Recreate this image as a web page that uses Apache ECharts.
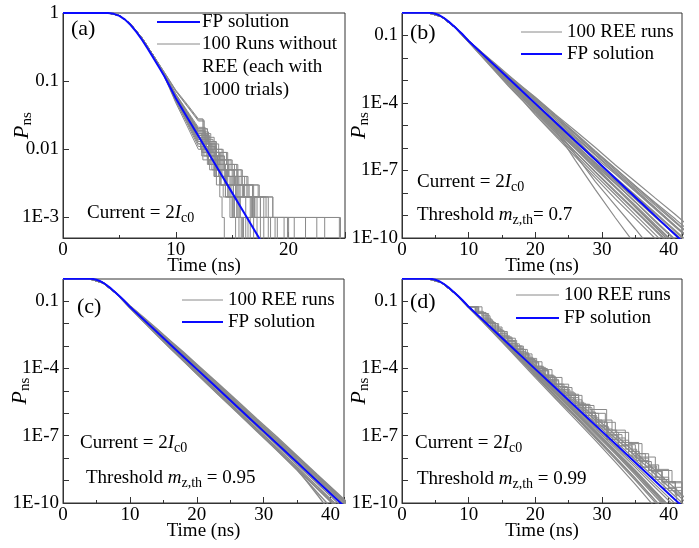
<!DOCTYPE html>
<html>
<head>
<meta charset="utf-8">
<script src="https://cdn.jsdelivr.net/npm/echarts@6/dist/echarts.min.js"></script>
<style>
html, body { margin: 0; padding: 0; background: #fff; }
#chart { width: 699px; height: 548px; }
</style>
</head>
<body>
<div id="chart"></div>
<script>
// ---------- values ----------
// FP solution (same in all panels), stored as log10(Pns)
var fpTime = [0, 4, 4.5, 5, 5.5, 6, 6.5, 7, 7.5, 8, 8.5, 9, 9.5, 10, 11, 12, 13, 14, 15, 16, 17, 18, 20, 22, 24, 26, 28, 30, 32, 34, 36, 38, 40, 42];
var fpLog = [0, 0, -0.012, -0.042, -0.097, -0.177, -0.277, -0.392, -0.52, -0.655, -0.793, -0.932, -1.09, -1.25, -1.528, -1.806, -2.083, -2.361, -2.639, -2.917, -3.194, -3.472, -4.028, -4.583, -5.139, -5.694, -6.25, -6.806, -7.361, -7.917, -8.472, -9.028, -9.583, -10.139];

// panel (a): runs without REE, 1000 trials each (Pns values, 0 = no survivors)
var aHeadTime = [0, 4, 5, 6, 7, 8];
var aHead = [1, 1, 0.92, 0.69, 0.43, 0.24];
var aMidTime = [9, 10, 11, 12];
var aMid = [
  [0.125, 0.062, 0.034, 0.019], [0.120, 0.055, 0.028, 0.014], [0.133, 0.072, 0.044, 0.027], [0.118, 0.052, 0.026, 0.013],
  [0.127, 0.060, 0.031, 0.017], [0.122, 0.058, 0.030, 0.016], [0.128, 0.064, 0.036, 0.020], [0.119, 0.054, 0.027, 0.015],
  [0.124, 0.059, 0.033, 0.018], [0.121, 0.056, 0.029, 0.015], [0.126, 0.061, 0.032, 0.017], [0.117, 0.050, 0.025, 0.012],
  [0.129, 0.065, 0.037, 0.021], [0.123, 0.057, 0.031, 0.016], [0.120, 0.053, 0.027, 0.014], [0.125, 0.063, 0.035, 0.019],
  [0.115, 0.048, 0.022, 0.010], [0.134, 0.074, 0.046, 0.028], [0.118, 0.051, 0.024, 0.011], [0.126, 0.062, 0.034, 0.020],
  [0.122, 0.055, 0.028, 0.013], [0.127, 0.063, 0.035, 0.018], [0.119, 0.053, 0.026, 0.012], [0.124, 0.060, 0.032, 0.017],
  [0.121, 0.056, 0.030, 0.016], [0.132, 0.071, 0.043, 0.026]
];
// [time of drop, new level]
var aTail = [
  [[12.6, 0.012], [13.2, 0.008], [13.9, 0.005], [14.6, 0.003], [15.4, 0.002], [16.8, 0.001], [18.2, 0]],
  [[12.4, 0.009], [13.1, 0.006], [13.8, 0.004], [14.4, 0.003], [15.1, 0.001], [16.0, 0]],
  [[12.5, 0.016], [13.0, 0.011], [13.6, 0.008], [14.3, 0.006], [15.2, 0.004], [16.1, 0.002], [17.5, 0.001], [20.5, 0]],
  [[12.3, 0.009], [12.9, 0.006], [13.4, 0.004], [13.9, 0.002], [14.1, 0.001], [14.3, 0]],
  [[12.7, 0.011], [13.5, 0.007], [14.2, 0.005], [15.0, 0.003], [15.9, 0.002], [16.6, 0.001], [17.2, 0]],
  [[12.5, 0.010], [13.3, 0.006], [14.0, 0.004], [14.8, 0.002], [15.6, 0.001], [24.5, 0]],
  [[12.8, 0.013], [13.6, 0.009], [14.5, 0.006], [15.5, 0.004], [16.4, 0.003], [17.4, 0.002], [18.6, 0.001], [19.6, 0]],
  [[12.2, 0.011], [12.8, 0.007], [13.5, 0.005], [14.5, 0.003], [15.3, 0.002], [16.2, 0.001], [16.9, 0]],
  [[12.4, 0.013], [13.0, 0.009], [13.8, 0.006], [14.7, 0.004], [15.6, 0.002], [17.0, 0.001], [21.5, 0]],
  [[12.6, 0.009], [13.4, 0.005], [14.0, 0.003], [14.9, 0.002], [15.4, 0.001], [15.8, 0]],
  [[12.3, 0.012], [13.1, 0.008], [13.7, 0.006], [14.4, 0.004], [15.3, 0.003], [16.5, 0.002], [17.8, 0.001], [18.8, 0]],
  [[12.5, 0.008], [13.2, 0.005], [13.9, 0.003], [14.6, 0.002], [15.2, 0.001], [15.9, 0]],
  [[12.6, 0.015], [13.4, 0.010], [14.1, 0.007], [14.9, 0.005], [15.8, 0.003], [16.8, 0.002], [18.0, 0.001], [24.6, 0]],
  [[12.9, 0.010], [13.6, 0.007], [14.3, 0.005], [15.1, 0.003], [16.0, 0.002], [16.7, 0.001], [20.0, 0]],
  [[12.7, 0.008], [13.5, 0.004], [14.4, 0.002], [15.0, 0.001], [17.5, 0]],
  [[12.5, 0.014], [13.3, 0.009], [14.0, 0.006], [14.6, 0.004], [15.4, 0.003], [16.3, 0.002], [17.2, 0.001], [19.0, 0]],
  [[12.4, 0.007], [13.0, 0.005], [13.6, 0.003], [14.2, 0.002], [14.8, 0.001], [15.3, 0]],
  [[12.4, 0.018], [12.9, 0.013], [13.5, 0.010], [14.2, 0.007], [15.0, 0.005], [15.9, 0.003], [16.9, 0.002], [18.2, 0.001], [22.5, 0]],
  [[12.3, 0.008], [12.8, 0.006], [13.4, 0.004], [14.0, 0.003], [14.7, 0.002], [15.5, 0.001], [16.4, 0]],
  [[12.8, 0.012], [13.5, 0.008], [14.3, 0.005], [15.2, 0.003], [16.0, 0.002], [17.0, 0.001], [17.8, 0]],
  [[12.5, 0.010], [13.0, 0.008], [13.7, 0.005], [14.3, 0.003], [15.1, 0.002], [15.7, 0.001], [16.2, 0]],
  [[12.6, 0.013], [13.2, 0.009], [13.9, 0.007], [14.7, 0.004], [15.5, 0.002], [16.9, 0.001], [23.2, 0]],
  [[12.2, 0.010], [12.9, 0.007], [13.6, 0.004], [14.4, 0.002], [15.0, 0.001], [15.6, 0]],
  [[12.4, 0.012], [13.1, 0.009], [13.9, 0.006], [14.6, 0.005], [15.5, 0.003], [16.4, 0.002], [17.5, 0.001], [18.4, 0]],
  [[12.7, 0.011], [13.4, 0.007], [14.1, 0.004], [14.9, 0.003], [15.7, 0.001], [16.6, 0]],
  [[12.5, 0.017], [13.1, 0.012], [13.8, 0.009], [14.6, 0.006], [15.4, 0.004], [16.3, 0.003], [17.3, 0.002], [18.6, 0.001], [19.9, 0]]
];

// panels (b)-(d): REE runs, log10(Pns) on a shared time grid
var runTime = [0, 4, 6, 8, 10, 12, 14, 16, 18, 20, 23, 26, 29, 32, 35, 38, 41, 43];
var runHeadLog = [0, 0, -0.177, -0.655];
var bRuns = [
  [-1.25, -1.76, -2.26, -2.77, -3.27, -3.75, -4.51, -5.24, -5.98, -6.76, -7.49, -8.23, -8.96, -9.47],
  [-1.25, -1.78, -2.28, -2.82, -3.32, -3.83, -4.56, -5.34, -6.13, -6.91, -7.69, -8.48, -9.26, -9.80],
  [-1.25, -1.79, -2.31, -2.87, -3.37, -3.88, -4.66, -5.49, -6.28, -7.06, -7.84, -8.65, -9.46, -10.00],
  [-1.27, -1.81, -2.34, -2.92, -3.52, -4.03, -4.81, -5.59, -6.48, -7.36, -8.14, -8.93, -9.71, -10.27],
  [-1.28, -1.86, -2.44, -3.02, -3.57, -4.15, -5.01, -5.87, -6.73, -7.56, -8.41, -9.28, -10.11, -10.67],
  [-1.30, -1.91, -2.51, -3.12, -3.72, -4.33, -5.21, -6.04, -6.93, -7.76, -8.61, -9.48, -10.31, -10.87],
  [-1.29, -1.91, -2.56, -3.17, -3.77, -4.41, -5.31, -6.19, -7.08, -7.96, -8.81, -9.68, -10.56, -11.12],
  [-1.30, -1.96, -2.61, -3.27, -3.87, -4.53, -5.46, -6.39, -7.33, -8.26, -9.14, -10.03, -10.91, -11.52],
  [-1.28, -1.86, -2.45, -3.05, -3.65, -4.25, -5.20, -6.55, -7.85, -9.10, -10.30, -11.50, -12.70, -13.50],
  [-1.28, -1.86, -2.45, -3.05, -3.62, -4.20, -5.10, -6.30, -7.50, -8.55, -9.60, -10.70, -11.80, -12.50],
  [-1.25, -1.77, -2.30, -2.80, -3.29, -3.78, -4.56, -5.39, -6.18, -6.91, -7.69, -8.43, -9.16, -9.67],
  [-1.27, -1.86, -2.46, -3.07, -3.67, -4.25, -5.11, -5.99, -6.83, -7.71, -8.54, -9.41, -10.26, -10.82],
  [-1.27, -1.84, -2.41, -2.97, -3.55, -4.13, -4.91, -5.69, -6.43, -7.16, -7.94, -8.73, -9.51, -10.02],
  [-1.30, -1.93, -2.58, -3.22, -3.85, -4.48, -5.38, -6.29, -7.21, -8.08, -8.97, -9.85, -10.71, -11.32],
  [-1.26, -1.84, -2.41, -3.00, -3.57, -4.13, -4.94, -5.74, -6.53, -7.31, -8.09, -8.88, -9.66, -10.20],
  [-1.27, -1.87, -2.46, -3.04, -3.62, -4.21, -5.08, -5.94, -6.78, -7.58, -8.39, -9.23, -10.06, -10.62],
  [-1.25, -1.79, -2.32, -2.86, -3.39, -3.93, -4.74, -5.54, -6.33, -7.11, -7.89, -8.68, -9.46, -9.97],
  [-1.28, -1.88, -2.48, -3.10, -3.69, -4.31, -5.16, -6.01, -6.88, -7.74, -8.64, -9.53, -10.41, -11.00],
  [-1.26, -1.83, -2.38, -2.95, -3.52, -4.09, -4.96, -5.81, -6.68, -7.48, -8.27, -9.08, -9.86, -10.40],
  [-1.25, -1.80, -2.33, -2.87, -3.37, -3.88, -4.64, -5.41, -6.21, -6.98, -7.77, -8.55, -9.31, -9.82],
  [-1.29, -1.91, -2.52, -3.14, -3.75, -4.38, -5.28, -6.17, -7.05, -7.91, -8.77, -9.63, -10.48, -11.07],
  [-1.27, -1.85, -2.42, -3.00, -3.59, -4.18, -5.04, -5.89, -6.65, -7.44, -8.24, -9.05, -9.81, -10.34]
];
var cRuns = [
  [-1.20, -1.71, -2.22, -2.75, -3.27, -3.81, -4.62, -5.43, -6.25, -7.06, -7.89, -8.73, -9.56, -10.12],
  [-1.22, -1.75, -2.27, -2.81, -3.35, -3.89, -4.71, -5.52, -6.35, -7.16, -7.99, -8.83, -9.64, -10.20],
  [-1.23, -1.78, -2.32, -2.87, -3.41, -3.96, -4.78, -5.61, -6.44, -7.26, -8.09, -8.91, -9.74, -10.30],
  [-1.25, -1.81, -2.35, -2.90, -3.45, -4.00, -4.84, -5.66, -6.49, -7.33, -8.15, -8.98, -9.81, -10.37],
  [-1.26, -1.83, -2.39, -2.96, -3.52, -4.08, -4.92, -5.76, -6.60, -7.44, -8.29, -9.13, -9.98, -10.54],
  [-1.27, -1.86, -2.43, -3.01, -3.57, -4.15, -4.99, -5.84, -6.69, -7.54, -8.39, -9.25, -10.11, -10.67],
  [-1.29, -1.89, -2.47, -3.06, -3.63, -4.21, -5.06, -5.91, -6.77, -7.62, -8.49, -9.36, -10.24, -10.82],
  [-1.30, -1.91, -2.51, -3.10, -3.67, -4.25, -5.10, -5.95, -6.81, -7.66, -8.54, -9.53, -10.51, -11.12],
  [-1.28, -1.87, -2.46, -3.04, -3.62, -4.20, -5.04, -5.89, -6.75, -7.61, -8.49, -9.63, -10.81, -11.52],
  [-1.21, -1.74, -2.25, -2.78, -3.31, -3.85, -4.66, -5.48, -6.31, -7.12, -7.94, -8.77, -9.59, -10.15],
  [-1.28, -1.88, -2.48, -3.08, -3.66, -4.24, -5.09, -5.93, -6.78, -7.63, -8.47, -9.33, -10.18, -10.75],
  [-1.23, -1.76, -2.28, -2.82, -3.37, -3.93, -4.74, -5.56, -6.39, -7.21, -8.02, -8.85, -9.68, -10.24]
];
var dRuns = [
  [-1.28, -1.89, -2.51, -3.14, -3.77, -4.41, -5.34, -6.27, -7.21, -8.18, -9.17, -10.21, -11.24, -11.92],
  [-1.27, -1.86, -2.46, -3.07, -3.67, -4.28, -5.19, -6.09, -7.01, -7.94, -8.89, -9.88, -10.86, -11.52],
  [-1.26, -1.84, -2.42, -3.01, -3.59, -4.18, -5.06, -5.94, -6.83, -7.73, -8.64, -9.58, -10.51, -11.12],
  [-1.25, -1.82, -2.39, -2.97, -3.53, -4.11, -4.96, -5.81, -6.68, -7.54, -8.41, -9.31, -10.18, -10.77],
  [-1.27, -1.87, -2.48, -3.10, -3.72, -4.34, -5.26, -6.17, -7.10, -8.04, -8.99, -9.98, -10.96, -11.62],
  [-1.26, -1.85, -2.44, -3.04, -3.63, -4.23, -5.12, -6.01, -6.91, -7.81, -8.74, -9.71, -10.66, -11.27],
  [-1.24, -1.80, -2.36, -2.94, -3.50, -4.07, -4.91, -5.76, -6.61, -7.46, -8.31, -9.18, -10.04, -10.62],
  [-1.27, -1.85, -2.43, -3.02, -3.61, -4.21, -5.09, -5.97, -6.86, -7.76, -8.67, -9.63, -10.58, -11.22],
  [-1.25, -1.80, -2.33, -2.87, -3.39, -3.93, -4.72, -5.51, -6.31, -7.11, -7.91, -8.73, -9.54, -10.09],
  [-1.26, -1.83, -2.40, -2.98, -3.56, -4.14, -5.00, -5.86, -6.75, -7.64, -8.54, -9.48, -10.41, -11.02],
  [-1.25, -1.81, -2.35, -2.90, -3.43, -3.97, -4.78, -5.59, -6.43, -7.24, -8.07, -8.89, -9.71, -10.27],
  [-1.27, -1.86, -2.45, -3.06, -3.67, -4.29, -5.21, -6.13, -7.06, -7.98, -8.92, -9.89, -10.86, -11.50],
  [-1.24, -1.79, -2.31, -2.84, -3.35, -3.87, -4.64, -5.41, -6.19, -6.96, -7.75, -8.55, -9.36, -9.92],
  [-1.26, -1.84, -2.41, -2.99, -3.57, -4.16, -5.03, -5.91, -6.80, -7.69, -8.59, -9.53, -10.46, -11.07]
];
// panel (d): stepped runs, [time of drop, new log10 level]
var dStepHeadTime = [0, 4, 5, 6, 7, 8, 9, 10];
var dStepHeadLog = [0, 0, -0.042, -0.177, -0.392, -0.655, -0.932, -1.25];
var dStepTail = [
  [[12, -1.65], [13.2, -2.0], [14.5, -2.35], [15.6, -2.65], [17, -3.0], [18.2, -3.35], [19.5, -3.7], [21, -4.05], [22.5, -4.4], [24, -4.85], [25.5, -5.2], [27, -5.65], [28.8, -6.0], [30.5, -6.4], [32, -6.85], [34, -7.35], [36, -7.95], [38, -8.5], [40, -9.05], [42, -9.6]],
  [[11.5, -1.55], [12.8, -1.95], [14, -2.3], [15.3, -2.65], [16.5, -3.0], [18, -3.4], [19.2, -3.75], [20.5, -4.1], [22, -4.5], [23.5, -4.95], [25, -5.3], [26.5, -5.75], [28.5, -6.2], [29.5, -6.6], [31, -6.95], [33, -7.4], [35, -8.0], [37, -8.55], [39, -9.05], [41, -9.6], [43, -10.2]],
  [[11, -1.45], [12.2, -1.8], [13.5, -2.15], [15, -2.55], [16.2, -2.9], [17.6, -3.3], [19, -3.65], [20.2, -4.0], [21.8, -4.4], [23.2, -4.8], [24.8, -5.2], [26.5, -5.6], [28.2, -5.83], [30.7, -7.17], [32.5, -7.45], [34.5, -7.95], [36, -8.4], [38, -8.95], [40, -9.45], [42, -10.05]],
  [[11, -1.5], [12, -1.75], [13.3, -2.1], [14.5, -2.45], [15.8, -2.8], [17, -3.15], [18.5, -3.55], [19.8, -3.9], [21.2, -4.3], [22.8, -4.7], [24.3, -5.1], [26, -5.55], [27.5, -5.95], [29, -6.4], [30.8, -6.85], [32.5, -7.3], [34.5, -7.8], [36.5, -8.35], [38.2, -8.85], [40, -9.3], [42, -9.85]],
  [[11.2, -1.5], [12.6, -1.9], [13.8, -2.25], [15, -2.6], [16.5, -3.0], [17.8, -3.35], [19, -3.7], [20.5, -4.1], [22, -4.55], [23.5, -4.95], [25.2, -5.4], [27, -5.85], [28.5, -6.3], [30, -6.7], [31.5, -7.1], [33.5, -7.6], [35.2, -8.1], [37, -8.55], [39, -9.1], [41, -9.65], [43, -10.2]],
  [[11.5, -1.55], [13, -2.0], [14.3, -2.35], [15.8, -2.75], [17.2, -3.15], [18.8, -3.55], [20.2, -3.95], [21.5, -4.35], [23, -4.7], [25, -5.15], [26.5, -5.6], [28, -6.0], [29.5, -6.3], [31.5, -6.75], [33.5, -7.3], [35.5, -7.8], [37, -8.3], [38.5, -8.55], [40.5, -9.1], [42, -9.6]],
  [[11, -1.5], [12.3, -1.85], [13.6, -2.2], [14.8, -2.55], [16, -2.9], [17.3, -3.25], [18.6, -3.6], [20, -4.0], [21.4, -4.4], [22.9, -4.8], [24.4, -5.2], [26, -5.65], [27.6, -6.1], [29.2, -6.55], [30.8, -7.0], [32.4, -7.45], [34, -7.9], [35.8, -8.4], [37.5, -8.85], [39.3, -9.35], [41.2, -9.9]],
  [[11.3, -1.55], [12.6, -1.95], [14, -2.35], [15.4, -2.75], [16.8, -3.1], [18.2, -3.5], [19.6, -3.9], [21, -4.3], [22.6, -4.7], [24, -5.05], [25.8, -5.5], [27.2, -5.95], [29, -6.35], [30.4, -6.75], [32.2, -7.2], [34, -7.7], [35.6, -8.15], [37.4, -8.6], [39, -9.05], [41, -9.55], [43, -10.1]]
];

// tick labels
var yTicksA = [1, 0.1, 0.01, 0.001];
var yTickTextA = ['1', '0.1', '0.01', '1E-3'];
var yTicksB = [0.1, 1e-4, 1e-7, 1e-10];
var yTickTextB = ['0.1', '1E-4', '1E-7', '1E-10'];

// ---------- chart ----------
var SERIF = "'Liberation Serif', 'Times New Roman', serif";
var GRAY = '#8a8a8a';
var BLUE = '#0a0aff';
var RICH = {
  r: { fontFamily: SERIF, fontSize: 19, lineHeight: 26, color: '#000' },
  i: { fontFamily: SERIF, fontSize: 19, fontStyle: 'italic', lineHeight: 26, color: '#000' },
  s: { fontFamily: SERIF, fontSize: 14, padding: [10, 0, 0, 0], color: '#000' }
};
var NAME_RICH = {
  i: { fontFamily: SERIF, fontSize: 22, fontStyle: 'italic', lineHeight: 28, color: '#000' },
  s: { fontFamily: SERIF, fontSize: 15, padding: [11, 0, 0, 0], color: '#000' }
};

function toP(e) { return Math.pow(10, e); }
function pairs(ts, vs) { return ts.map(function (t, i) { return [t, vs[i]]; }); }
function stairs(head, tail) {
  var pts = head.slice();
  var prev = pts[pts.length - 1][1];
  tail.forEach(function (s) {
    pts.push([s[0], prev]);
    pts.push([s[0], s[1]]);
    prev = s[1];
  });
  return pts;
}
function gridRun(vals) {
  var all = runHeadLog.concat(vals);
  return runTime.map(function (t, i) { return [t, toP(all[i])]; });
}
function labelFmt(ticks, texts) {
  return function (v) {
    for (var i = 0; i < ticks.length; i++) {
      if (Math.abs(Math.log10(v) - Math.log10(ticks[i])) < 1e-6) return texts[i];
    }
    return '';
  };
}
function lineSeries(idx, data, color, width, z) {
  return {
    type: 'line', xAxisIndex: idx, yAxisIndex: idx, data: data,
    symbol: 'none', showSymbol: false, silent: true, clip: true, animation: false,
    lineStyle: { color: color, width: width }, z: z
  };
}

var fpData = fpTime.map(function (t, i) { return [t, toP(fpLog[i])]; });
var series = [];

// (a)
aMid.forEach(function (mid, k) {
  var head = pairs(aHeadTime, aHead).concat(pairs(aMidTime, mid));
  var pts = stairs(head, aTail[k]).map(function (p) { return [p[0], p[1] > 0 ? p[1] : 1e-6]; });
  series.push(lineSeries(0, pts, GRAY, 1, 2));
});
series.push(lineSeries(0, fpData, BLUE, 2, 5));
// (b)
bRuns.forEach(function (r) { series.push(lineSeries(1, gridRun(r), GRAY, 1.2, 2)); });
series.push(lineSeries(1, fpData, BLUE, 2, 5));
// (c)
cRuns.forEach(function (r) { series.push(lineSeries(2, gridRun(r), GRAY, 1.4, 2)); });
series.push(lineSeries(2, fpData, BLUE, 2, 5));
// (d)
dRuns.forEach(function (r) { series.push(lineSeries(3, gridRun(r), GRAY, 1.2, 2)); });
dStepTail.forEach(function (tail) {
  var pts = stairs(pairs(dStepHeadTime, dStepHeadLog), tail).map(function (p) { return [p[0], toP(p[1])]; });
  series.push(lineSeries(3, pts, GRAY, 1, 2));
});
series.push(lineSeries(3, fpData, BLUE, 2, 5));

var grids = [
  { left: 63, top: 13, width: 282, height: 225 },
  { left: 402, top: 13, width: 280, height: 225 },
  { left: 63, top: 279, width: 281, height: 224 },
  { left: 402, top: 279, width: 280, height: 224 }
].map(function (g) {
  return Object.assign({ show: true, borderColor: '#333', borderWidth: 1, backgroundColor: 'transparent' }, g);
});

var xMax = [25, 42, 42, 42];
var xAxes = xMax.map(function (m, i) {
  return {
    type: 'value', gridIndex: i, min: 0, max: m, interval: 10,
    name: 'Time (ns)', nameLocation: 'middle', nameGap: 19, nameMoveOverlap: false,
    nameTextStyle: { fontFamily: SERIF, fontSize: 19, color: '#000' },
    axisLine: { show: true, onZero: false, lineStyle: { color: '#333' } },
    axisTick: { inside: true, length: 6, lineStyle: { color: '#333' } },
    minorTick: { show: true, splitNumber: 2, length: 3, lineStyle: { color: '#333' } },
    splitLine: { show: false },
    axisLabel: { fontFamily: SERIF, fontSize: 19, color: '#000', margin: 3, showMaxLabel: false }
  };
});
var yAxes = [0, 1, 2, 3].map(function (i) {
  var isA = i === 0;
  return {
    type: 'log', logBase: 10, gridIndex: i,
    min: isA ? 5e-4 : 1e-10, max: isA ? 1 : 0.98,
    name: '{i|P}{s|ns}', nameLocation: 'middle', nameGap: isA ? 27 : 29, nameRotate: 90,
    nameMoveOverlap: false,
    nameTextStyle: { rich: NAME_RICH },
    axisLine: { show: true, lineStyle: { color: '#333' } },
    axisTick: { inside: true, length: 6, lineStyle: { color: '#333' } },
    splitLine: { show: false },
    axisLabel: {
      fontFamily: SERIF, fontSize: 19, color: '#000', margin: 4,
      formatter: isA ? labelFmt(yTicksA, yTickTextA) : labelFmt(yTicksB, yTickTextB)
    }
  };
});

function txt(x, y, text, size) {
  return {
    type: 'text', x: x, y: y, silent: true, z: 10,
    style: { text: text, fontFamily: SERIF, fontSize: size || 19, fill: '#000', verticalAlign: 'middle', align: 'left', rich: RICH }
  };
}
function seg(x1, x2, y, color, w) {
  return { type: 'line', silent: true, z: 10, shape: { x1: x1, y1: y, x2: x2, y2: y }, style: { stroke: color, lineWidth: w } };
}
var CUR = '{r|Current = 2}{i|I}{s|c0}';
var graphics = [
  // (a)
  txt(71, 29, '(a)', 22),
  seg(157, 200, 22, BLUE, 2), txt(202, 22, 'FP solution'),
  seg(157, 200, 44, GRAY, 1), txt(202, 44, '100 Runs without'),
  txt(202, 67, 'REE (each with'), txt(202, 90, '1000 trials)'),
  txt(87, 213, CUR),
  // (b)
  txt(410, 33, '(b)', 22),
  seg(521, 562, 32, GRAY, 1), txt(567, 32, '100 REE runs'),
  seg(521, 562, 54, BLUE, 2), txt(567, 54, 'FP solution'),
  txt(417, 182, CUR),
  txt(417, 215, '{r|Threshold }{i|m}{s|z,th}{r|= 0.7}'),
  // (c)
  txt(77, 307, '(c)', 22),
  seg(182, 223, 300, GRAY, 1), txt(228, 300, '100 REE runs'),
  seg(182, 223, 322, BLUE, 2), txt(228, 322, 'FP solution'),
  txt(80, 443, CUR),
  txt(86, 478, '{r|Threshold }{i|m}{s|z,th}{r| = 0.95}'),
  // (d)
  txt(410, 302, '(d)', 22),
  seg(516, 559, 295, GRAY, 1), txt(564, 295, '100 REE runs'),
  seg(516, 559, 318, BLUE, 2), txt(564, 318, 'FP solution'),
  txt(415, 443, CUR),
  txt(417, 479, '{r|Threshold }{i|m}{s|z,th}{r| = 0.99}')
];

var chart = echarts.init(document.getElementById('chart'), null, { renderer: 'canvas' });
chart.setOption({
  backgroundColor: '#fff',
  animation: false,
  grid: grids,
  xAxis: xAxes,
  yAxis: yAxes,
  series: series,
  graphic: graphics
});
</script>
</body>
</html>
